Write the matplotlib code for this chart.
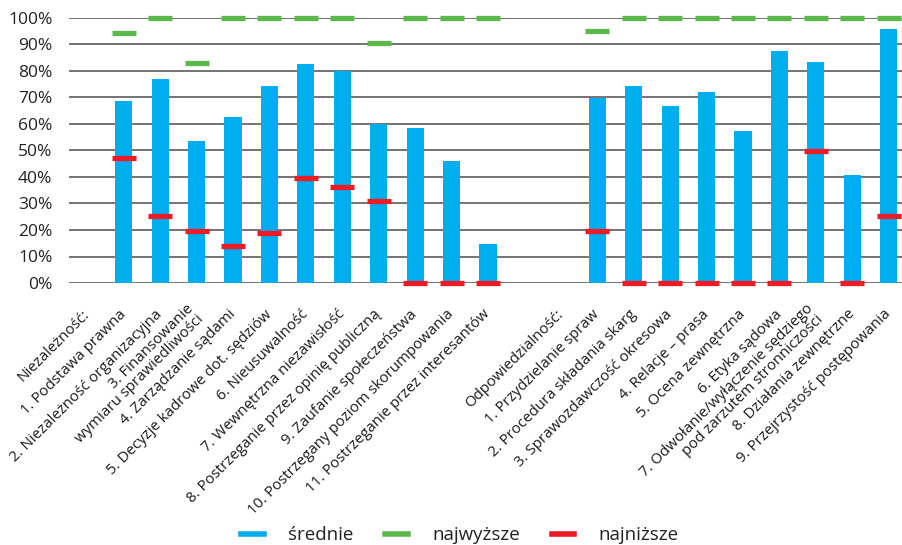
import numpy as np
import matplotlib.pyplot as plt
from matplotlib.lines import Line2D

plt.rcParams["font.family"] = ["Open Sans", "DejaVu Sans"]

# categories (None = group header / spacer without bars)
labels = ["Niezależność:", "1. Podstawa prawna", "2. Niezależność organizacyjna",
          "3. Finansowanie\nwymiaru sprawiedliwości", "4. Zarządzanie sądami",
          "5. Decyzje kadrowe dot. sędziów", "6. Nieusuwalność",
          "7. Wewnętrzna niezawisłość", "8. Postrzeganie przez opinię publiczną",
          "9. Zaufanie społeczeństwa", "10. Postrzegany poziom skorumpowania",
          "11. Postrzeganie przez interesantów", "",
          "Odpowiedzialność:", "1. Przydzielanie spraw", "2. Procedura składania skarg",
          "3. Sprawozdawczość okresowa", "4. Relacje – prasa", "5. Ocena zewnętrzna",
          "6. Etyka sądowa", "7. Odwołanie/wyłączenie sędziego\npod zarzutem stronniczości",
          "8. Działania zewnętrzne", "9. Przejrzystość postępowania"]

srednie = [None, 68.7, 77.0, 53.6, 62.7, 74.4, 82.7, 80.0, 60.0, 58.5, 46.0, 14.6, None,
           None, 69.9, 74.4, 66.8, 72.1, 57.4, 87.6, 83.5, 40.7, 96.0]
najwyzsze = [None, 94.3, 100, 83.0, 100, 100, 100, 100, 90.5, 100, 100, 100, None,
             None, 95.1, 100, 100, 100, 100, 100, 100, 100, 100]
najnizsze = [None, 47.0, 25.1, 19.8, 14.1, 19.0, 39.8, 36.1, 31.1, 0, 0, 0, None,
             None, 19.8, 0, 0, 0, 0, 0, 49.7, 0, 25.1]

c_mean = "#00AEEF"
c_max = "#5BB84A"
c_min = "#ED1C24"

x = np.arange(len(labels))
mean = np.array([np.nan if v is None else v for v in srednie], dtype=float) / 100
vmax = np.array([np.nan if v is None else v for v in najwyzsze], dtype=float) / 100
vmin = np.array([np.nan if v is None else v for v in najnizsze], dtype=float) / 100

fig = plt.figure(figsize=(9.02, 5.45), dpi=100)
ax = fig.add_axes([69 / 902, 1 - 283 / 545, 838 / 902, 265 / 545])

ax.set_yticks(np.arange(0, 1.01, 0.1))
ax.yaxis.grid(True, color="#4d4d4d", linewidth=1.1)
ax.set_axisbelow(True)

ax.bar(x, np.nan_to_num(mean), width=0.47, color=c_mean, zorder=2)
ax.plot(x, vmax, linestyle="none", marker="_", markersize=17.5, mew=3.8,
        color=c_max, zorder=3, clip_on=False)
ax.plot(x, vmin, linestyle="none", marker="_", markersize=17.5, mew=3.8,
        color=c_min, zorder=3, clip_on=False)

ax.set_xlim(-0.5, len(labels) - 0.5)
ax.set_ylim(0, 1)
ax.yaxis.set_major_formatter(plt.FuncFormatter(lambda v, p: f"{v * 100:.0f}%"))
ax.tick_params(axis="y", length=0, pad=12, labelsize=12.5, labelcolor="#222222")
ax.tick_params(axis="x", length=0, pad=21)
ax.set_xticks(x)
ax.set_xticklabels(labels, rotation=45, ha="right", va="center", rotation_mode="anchor",
                   fontsize=10.8, color="#1a1a1a", linespacing=1.0)
for s in ax.spines.values():
    s.set_visible(False)

handles = [Line2D([], [], color=c, linewidth=4) for c in (c_mean, c_max, c_min)]
fig.legend(handles, ["średnie", "najwyższe", "najniższe"], loc="lower center",
           bbox_to_anchor=(0.51, -0.03), ncol=3, frameon=False, fontsize=13.5,
           handlelength=1.2, columnspacing=1.7, handletextpad=1.3,
           labelcolor="#222222")

fig.savefig("out.png", dpi=100)
